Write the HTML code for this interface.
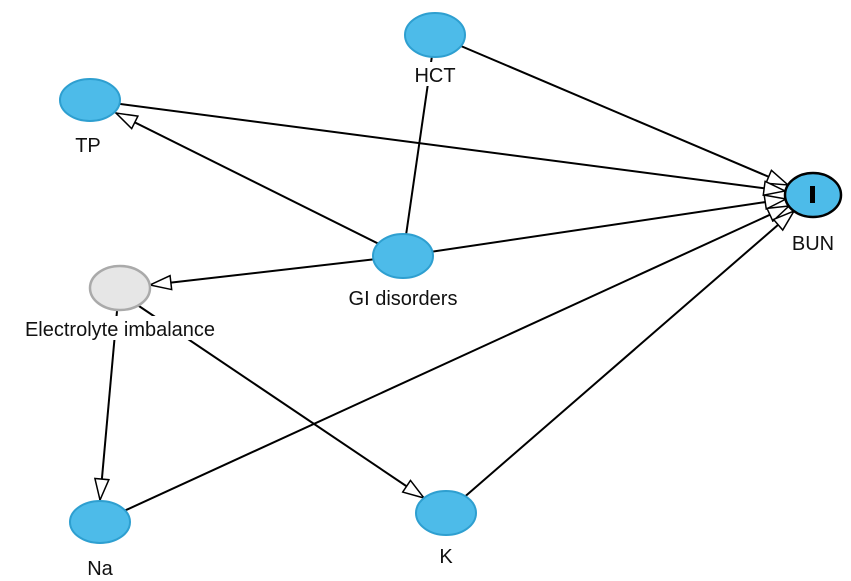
<!DOCTYPE html>
<html><head><style>body{margin:0;background:#fff}svg{display:block}text{font-family:"Liberation Sans",sans-serif;font-size:20px;fill:#111}</style></head>
<body>
<svg width="851" height="581" viewBox="0 0 851 581">
<defs>
<marker id="a" markerWidth="24" markerHeight="16" refX="22" refY="8" orient="auto" markerUnits="userSpaceOnUse">
<path d="M1,1 L22,8 L1,15 Z" fill="#fff" stroke="#000" stroke-width="1.5"/>
</marker>
</defs>
<g stroke="#000" stroke-width="2" fill="none">
<line x1="435" y1="35" x2="788" y2="185" marker-end="url(#a)"/>
<line x1="90" y1="100" x2="785" y2="191" marker-end="url(#a)"/>
<line x1="403" y1="256" x2="786" y2="199" marker-end="url(#a)"/>
<line x1="100" y1="522" x2="789" y2="206" marker-end="url(#a)"/>
<line x1="446" y1="513" x2="794" y2="211" marker-end="url(#a)"/>
<line x1="403" y1="256" x2="116" y2="113" marker-end="url(#a)"/>
<line x1="403" y1="256" x2="150" y2="285" marker-end="url(#a)"/>
<line x1="403" y1="256" x2="435" y2="35"/>
<line x1="118" y1="300" x2="100" y2="500" marker-end="url(#a)"/>
<line x1="130" y1="300" x2="424" y2="498" marker-end="url(#a)"/>
</g>
<g fill="#fff">
<rect x="6" y="316" width="228" height="24"/>
<rect x="410" y="62" width="52" height="24"/>
<rect x="335" y="284" width="136" height="24"/>
</g>
<g fill="#4dbbe9" stroke="#2e9fd0" stroke-width="2">
<ellipse cx="435" cy="35" rx="30" ry="22"/>
<ellipse cx="90" cy="100" rx="30" ry="21"/>
<ellipse cx="403" cy="256" rx="30" ry="22"/>
<ellipse cx="100" cy="522" rx="30" ry="21"/>
<ellipse cx="446" cy="513" rx="30" ry="22"/>
</g>
<ellipse cx="120" cy="288" rx="30" ry="22" fill="#e6e6e6" stroke="#aaa" stroke-width="2.5"/>
<ellipse cx="813" cy="195" rx="28" ry="22" fill="#4dbbe9" stroke="#000" stroke-width="2.5"/>
<rect x="810" y="186" width="5" height="17" fill="#000"/>
<g text-anchor="middle">
<text x="435" y="82">HCT</text>
<text x="88" y="152">TP</text>
<text x="403" y="305">GI disorders</text>
<text x="120" y="336">Electrolyte imbalance</text>
<text x="100" y="575">Na</text>
<text x="446" y="563">K</text>
<text x="813" y="250">BUN</text>
</g>
</svg>
</body></html>
